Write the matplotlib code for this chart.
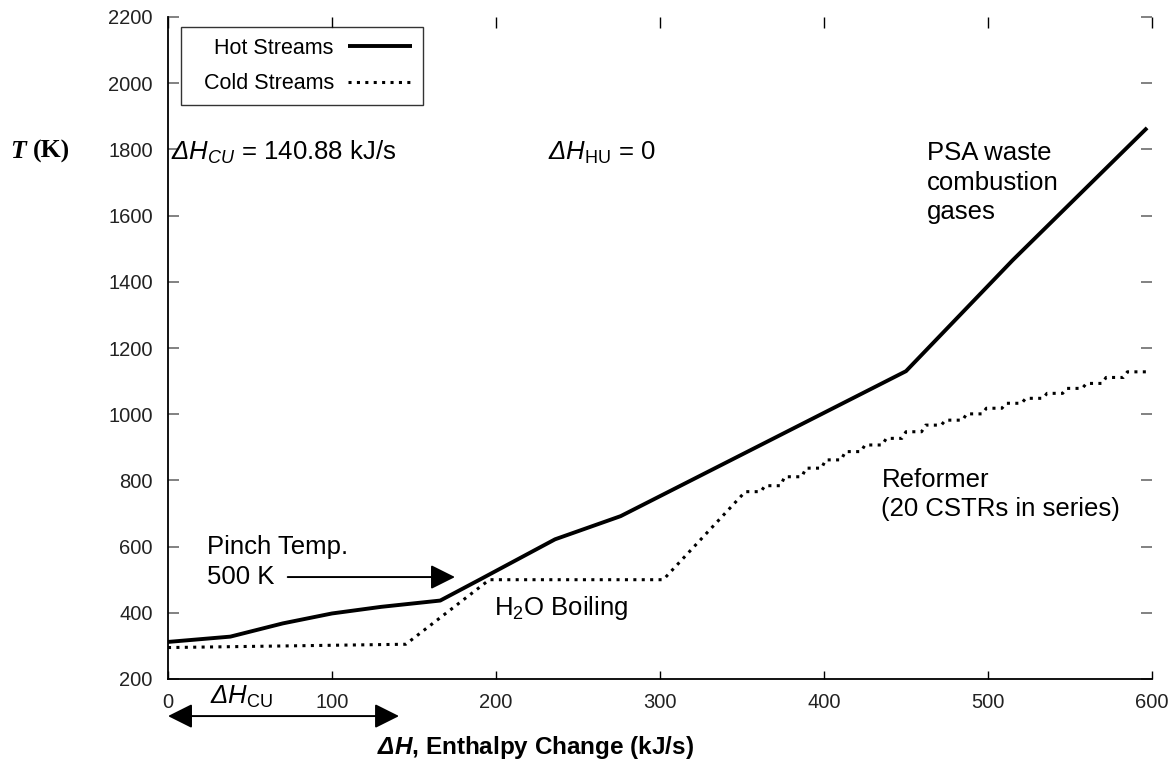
import matplotlib
matplotlib.use('Agg')
import matplotlib.pyplot as plt
from matplotlib.patches import ArrowStyle

# ---------------- data ----------------
hot_x = [0, 38, 70, 100, 130, 166, 190, 236, 276, 450, 515, 597]
hot_T = [312, 328, 368, 398, 418, 437, 500, 622, 692, 1130, 1465, 1865]

cold_x = [0, 145, 196, 302, 352]
cold_T = [295, 305, 500, 500, 766]

# reformer staircase (20 CSTRs in series)
reformer_x = [352, 364, 376, 389, 401, 413, 425, 438, 450, 462, 474,
              487, 499, 511, 523, 536, 548, 560, 572, 585, 597]
reformer_T = [766, 784, 811, 837, 862, 887, 907, 927, 947, 967,
              982, 1001, 1018, 1033, 1048, 1063, 1078, 1093, 1111, 1128]

x_ticks = [0, 100, 200, 300, 400, 500, 600]
y_ticks = [200, 400, 600, 800, 1000, 1200, 1400, 1600, 1800, 2000, 2200]

series_labels = ['Hot Streams', 'Cold Streams']
dH_CU = 140.88
pinch_T = 500

# ---------------- style ----------------
plt.rcParams['font.family'] = ['Liberation Sans', 'DejaVu Sans']
plt.rcParams['mathtext.fontset'] = 'custom'
plt.rcParams['mathtext.rm'] = 'Liberation Sans'
plt.rcParams['mathtext.it'] = 'Liberation Sans:italic'
plt.rcParams['mathtext.sf'] = 'Liberation Sans:italic'
plt.rcParams['mathtext.bf'] = 'Liberation Sans:bold'
plt.rcParams['mathtext.bfit'] = 'Liberation Sans:italic:bold'

W, H = 1173, 759
fig = plt.figure(figsize=(W / 100, H / 100), dpi=100)
ax = fig.add_axes([168 / W, 1 - 679 / H, 984 / W, 662 / H])

# build cold composite vertices (staircase for reformer)
cx = list(cold_x)
cT = list(cold_T)
n = len(reformer_T)
for i, T in enumerate(reformer_T):
    x0, x1 = reformer_x[i], reformer_x[i + 1]
    if i > 0:
        cx.append(x0)
        cT.append(T)
    cx.append(x1 if i == n - 1 else x1 - 2.5)
    cT.append(T)

ax.plot(hot_x, hot_T, color='black', lw=2.8, solid_joinstyle='round',
        solid_capstyle='butt', label='  ' + series_labels[0])
ax.plot(cx, cT, color='black', lw=2.2, linestyle=(0, (1, 1.75)),
        dash_capstyle='butt', label='  ' + series_labels[1])

ax.set_xlim(0, 600)
ax.set_ylim(200, 2200)
ax.set_xticks(x_ticks)
ax.set_yticks(y_ticks)

for s in ['top', 'right']:
    ax.spines[s].set_visible(False)
for s in ['left', 'bottom']:
    ax.spines[s].set_linewidth(1.3)
    ax.spines[s].set_color('black')

ax.tick_params(axis='x', direction='in', length=6, width=1.0, color='black',
               top=True, labelsize=14.5, labelcolor='#222222', pad=10)
ax.tick_params(axis='y', direction='in', length=8, width=1.3, color='#777777',
               right=True, labelsize=14.5, labelcolor='#222222', pad=11)
for t in ax.xaxis.get_major_ticks():
    t.tick2line.set_markersize(8)

# legend
leg = ax.legend(loc='upper left', bbox_to_anchor=(0.013, 0.985),
                borderaxespad=0, markerfirst=False, fontsize=15.5,
                frameon=True, fancybox=False, edgecolor='black',
                handlelength=3.0, handletextpad=0.65, labelspacing=0.68,
                borderpad=0.5)
leg.get_frame().set_linewidth(1.0)

# annotations
fs = 18.5
ax.text(2, 1790, r'$\mathsf{\Delta}\mathit{H}_{\mathit{CU}}$ = 140.88 kJ/s',
        fontsize=fs, va='center', ha='left')
ax.text(232, 1790, r'$\mathsf{\Delta}\mathit{H}_{\mathrm{HU}}$ = 0',
        fontsize=fs, va='center', ha='left')
ax.text(463, 1700, 'PSA waste\ncombustion\ngases', fontsize=fs,
        va='center', ha='left', linespacing=1.3)
ax.text(435, 757, 'Reformer\n(20 CSTRs in series)', fontsize=fs,
        va='center', ha='left', linespacing=1.3)
ax.text(24, 599, 'Pinch Temp.', fontsize=fs, va='center', ha='left')
ax.text(24, 508, '500 K', fontsize=fs, va='center', ha='left')
ax.text(199, 414, r'H$_2$O Boiling', fontsize=fs, va='center', ha='left')

head = ArrowStyle('-|>', head_length=1.0, head_width=0.5)
ax.annotate('', xy=(175, pinch_T + 8), xytext=(73, pinch_T + 8),
            arrowprops=dict(arrowstyle=head, lw=1.4, color='black',
                            mutation_scale=15, shrinkA=0, shrinkB=0))

trans = ax.get_xaxis_transform()
dhead = ArrowStyle('<|-|>', head_length=1.0, head_width=0.5)
ax.annotate('', xy=(dH_CU, -0.056), xytext=(0, -0.056),
            xycoords=trans, textcoords=trans,
            arrowprops=dict(arrowstyle=dhead, lw=1.4, color='black',
                            mutation_scale=15, shrinkA=0, shrinkB=0),
            annotation_clip=False)
ax.text(45, -0.027, r'$\mathsf{\Delta}\mathit{H}_{\mathrm{CU}}$',
        transform=trans, fontsize=fs, ha='center', va='center', clip_on=False)

# axis labels
ax.set_xlabel(r'$\mathbfit{\Delta H}$, Enthalpy Change (kJ/s)',
              fontsize=17.5, fontweight='bold')
ax.xaxis.set_label_coords(0.373, -0.083)

fig.text(10 / W, 1 - 151 / H, 'T', family='Liberation Serif',
         weight='bold', style='italic', fontsize=18.5, va='center', ha='left')
fig.text(33 / W, 1 - 151 / H, '(K)', family='Liberation Serif',
         weight='bold', fontsize=18.5, va='center', ha='left')

fig.savefig('out.png', dpi=100)
